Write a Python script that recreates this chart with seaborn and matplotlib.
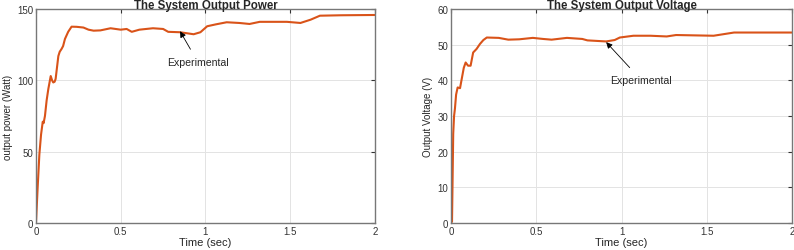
import pandas as pd
import matplotlib
matplotlib.use("Agg")
import matplotlib.pyplot as plt
import seaborn as sns

# power curve
t_power = [0, 0.01, 0.02, 0.03, 0.04, 0.045, 0.053, 0.063, 0.073, 0.087, 0.095,
           0.102, 0.11, 0.116, 0.125, 0.132, 0.14, 0.151, 0.16, 0.171, 0.19,
           0.21, 0.24, 0.28, 0.31, 0.34, 0.38, 0.44, 0.50, 0.535, 0.565, 0.61,
           0.69, 0.75, 0.78, 0.85, 0.93, 0.97, 1.01, 1.06, 1.125, 1.20, 1.26,
           1.32, 1.48, 1.56, 1.62, 1.675, 1.80, 2.0]
power = [0, 25, 48, 62, 71, 70, 75, 86, 94, 103, 100,
         98.5, 99, 101, 110, 117, 120, 122, 124, 129, 134,
         137.6, 137.5, 137, 135.5, 134.8, 135, 136.5, 135.5, 136, 134, 135.5,
         136.5, 136, 134, 133.7, 132.3, 133.7, 137.9, 139.2, 140.7, 140.2, 139.5,
         141, 141, 140.2, 142.5, 145.3, 145.6, 145.8]

# voltage curve
t_volt = [0, 0.006, 0.013, 0.018, 0.023, 0.03, 0.039, 0.053, 0.063, 0.075,
          0.086, 0.10, 0.115, 0.13, 0.15, 0.17, 0.19, 0.21, 0.28, 0.336, 0.40,
          0.48, 0.54, 0.59, 0.68, 0.77, 0.80, 0.91, 0.96, 0.99, 1.07, 1.17,
          1.265, 1.32, 1.54, 1.58, 1.66, 2.0]
voltage = [0, 0.4, 25, 30, 32, 36, 38, 37.8, 40.4, 43.5,
           45, 44.1, 44.1, 47.8, 48.8, 50.2, 51.3, 52, 51.9, 51.4, 51.5,
           51.9, 51.6, 51.4, 51.9, 51.6, 51.2, 50.9, 51.3, 52, 52.5, 52.5,
           52.3, 52.7, 52.5, 52.8, 53.4, 53.4]

x_ticks = [0, 0.5, 1, 1.5, 2]
x_tick_labels = ["0", "0.5", "1", "1.5", "2"]

sns.set_style("whitegrid")
plt.rcParams["font.family"] = ["Liberation Sans", "DejaVu Sans"]

line_color = "#D95319"

fig = plt.figure(figsize=(7.94, 2.51), dpi=100)
ax1 = fig.add_axes([0.0453, 0.1076, 0.4270, 0.8526])
ax2 = fig.add_axes([0.568, 0.1076, 0.4295, 0.8526])

df_p = pd.DataFrame({"t": t_power, "p": power})
df_v = pd.DataFrame({"t": t_volt, "v": voltage})

sns.lineplot(data=df_p, x="t", y="p", ax=ax1, color=line_color, linewidth=1.5)
sns.lineplot(data=df_v, x="t", y="v", ax=ax2, color=line_color, linewidth=1.5)

ax1.set_ylim(0, 150)
ax1.set_yticks([0, 50, 100, 150])
ax2.set_ylim(0, 60)
ax2.set_yticks([0, 10, 20, 30, 40, 50, 60])

for ax in (ax1, ax2):
    ax.set_xlim(0, 2)
    ax.set_xticks(x_ticks)
    ax.set_xticklabels(x_tick_labels)
    ax.grid(True, color="#e3e3e3", linewidth=0.7)
    ax.tick_params(direction="in", length=3, width=0.8, labelsize=7,
                   right=True, top=True, colors="#333333", pad=2)
    for s in ax.spines.values():
        s.set_color("#777777")
        s.set_linewidth(1.0)
    ax.set_xlabel("Time (sec)", fontsize=8, labelpad=1)

ax1.set_ylabel("output power (Watt)", fontsize=7, labelpad=3)
ax2.set_ylabel("Output Voltage (V)", fontsize=7, labelpad=3)
ax1.set_title("The System Output Power", fontsize=8.3, fontweight="bold", pad=1)
ax2.set_title("The System Output Voltage", fontsize=8.3, fontweight="bold", pad=1)

arrow = dict(arrowstyle="-|>", color="black", lw=0.6, mutation_scale=9,
             shrinkA=4, shrinkB=0)
ax1.annotate("Experimental", xy=(0.85, 134.4), xytext=(0.956, 112.6),
             ha="center", va="center", fontsize=7.6, arrowprops=arrow)
ax2.annotate("Experimental", xy=(0.91, 50.7), xytext=(1.115, 40.1),
             ha="center", va="center", fontsize=7.6, arrowprops=arrow)

plt.savefig("out.png", dpi=100)
plt.close()
